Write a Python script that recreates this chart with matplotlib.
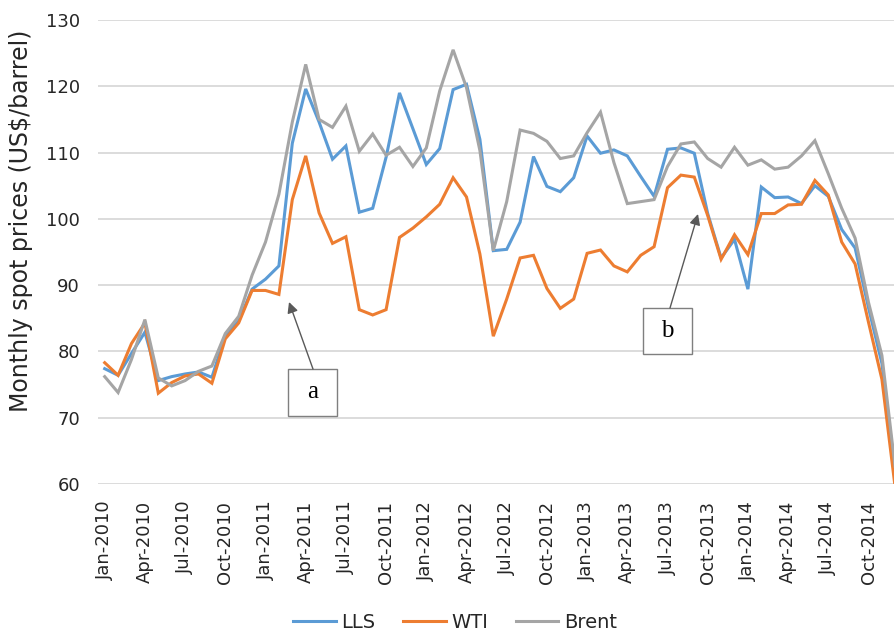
import matplotlib
matplotlib.use("Agg")
import matplotlib.pyplot as plt
from matplotlib.patches import Rectangle, FancyArrowPatch

months = ["Jan", "Feb", "Mar", "Apr", "May", "Jun", "Jul", "Aug", "Sep", "Oct", "Nov", "Dec"]
years = [2010, 2011, 2012, 2013, 2014]
categories = [f"{m}-{y}" for y in years for m in months]

lls = [77.4, 76.4, 79.7, 82.9, 75.6, 76.2, 76.6, 76.9, 76.1, 82.4, 84.6, 89.4,
       90.9, 92.9, 111.4, 119.6, 114.6, 109.0, 111.0, 101.0, 101.6, 109.3, 119.0, 113.6,
       108.2, 110.6, 119.5, 120.3, 112.0, 95.2, 95.4, 99.5, 109.4, 104.9, 104.1, 106.2,
       112.5, 109.9, 110.4, 109.5, 106.4, 103.4, 110.5, 110.7, 109.9, 100.8, 94.1, 96.9,
       89.4, 104.8, 103.2, 103.3, 102.3, 105.0, 103.4, 98.4, 95.6, 86.6, 78.2, 61.5]
wti = [78.3, 76.4, 81.2, 84.3, 73.7, 75.3, 76.3, 76.6, 75.2, 81.9, 84.3, 89.2,
       89.2, 88.6, 102.9, 109.5, 100.9, 96.3, 97.3, 86.3, 85.5, 86.3, 97.2, 98.6,
       100.3, 102.2, 106.2, 103.3, 94.7, 82.3, 87.9, 94.1, 94.5, 89.5, 86.5, 87.9,
       94.8, 95.3, 92.9, 92.0, 94.5, 95.8, 104.7, 106.6, 106.3, 100.5, 93.9, 97.6,
       94.6, 100.8, 100.8, 102.1, 102.2, 105.8, 103.6, 96.5, 93.2, 84.4, 75.8, 59.3]
brent = [76.2, 73.8, 78.8, 84.8, 76.0, 74.8, 75.6, 77.0, 77.8, 82.7, 85.3, 91.5,
         96.5, 103.7, 114.6, 123.3, 115.0, 113.8, 117.0, 110.2, 112.8, 109.6, 110.8, 107.9,
         110.7, 119.3, 125.5, 119.8, 110.3, 95.2, 102.6, 113.4, 112.9, 111.7, 109.1, 109.5,
         113.0, 116.1, 108.5, 102.3, 102.6, 102.9, 107.9, 111.3, 111.6, 109.1, 107.8, 110.8,
         108.1, 108.9, 107.5, 107.8, 109.5, 111.8, 106.8, 101.6, 97.1, 87.4, 79.4, 62.3]

series_names = ["LLS", "WTI", "Brent"]
series_colors = ["#5B9BD5", "#ED7D31", "#A5A5A5"]

W, H = 894, 635
fig = plt.figure(figsize=(W / 100, H / 100), dpi=100)
ax = fig.add_axes([98 / W, 1 - 484 / H, 804 / W, 464 / H])

x = list(range(len(categories)))
handles = []
for vals, name, col in zip([lls, wti, brent], series_names, series_colors):
    h, = ax.plot(x, vals, color=col, lw=2.2, label=name, solid_joinstyle="miter")
    handles.append(h)

ax.set_xlim(-0.5, len(categories) - 0.5)
ax.set_ylim(60, 130)
ax.set_yticks(range(60, 131, 10))
ax.yaxis.grid(True, color="#D9D9D9", lw=1.3)
ax.set_axisbelow(True)
for s in ax.spines.values():
    s.set_visible(False)
ax.set_xticks(x[::3])
ax.set_xticklabels(categories[::3], rotation=90, fontsize=13, color="#262626")
ax.tick_params(axis="x", length=0, pad=12)
ax.tick_params(axis="y", length=0, pad=13, labelsize=13, labelcolor="#262626")

fig.text(21 / W, 1 - 221 / H, "Monthly spot prices (US$/barrel)", rotation=90,
         ha="center", va="center", fontsize=17, color="#262626")

fig.legend(handles=handles, labels=series_names, loc="center", ncol=3,
           bbox_to_anchor=(455 / W, 1 - 622 / H), frameon=False, fontsize=14,
           handlelength=2.2, handletextpad=0.3, columnspacing=1.4,
           labelcolor="#262626")

def fpx(px, py):
    return (px / W, 1 - py / H)

def add_box(x0, y0, x1, y1, label, tail, tip):
    bl = fpx(x0, y1)
    rect = Rectangle(bl, (x1 - x0) / W, (y1 - y0) / H, transform=fig.transFigure,
                     facecolor="white", edgecolor="#7F7F7F", lw=1.0, zorder=5)
    fig.patches.append(rect)
    fig.text((x0 + x1) / 2 / W, 1 - (y0 + y1) / 2 / H, label, ha="center", va="center",
             fontsize=18, family="Liberation Serif", color="black", zorder=6)
    arr = FancyArrowPatch(fpx(*tail), fpx(*tip), transform=fig.transFigure,
                          arrowstyle="-|>", mutation_scale=16, color="#595959",
                          lw=1.0, shrinkA=0, shrinkB=0, zorder=6)
    fig.patches.append(arr)

add_box(288, 369, 337, 416, "a", (313, 369), (289, 302))
add_box(643, 308, 692, 354, "b", (670, 308), (698, 214))

fig.savefig("out.png", dpi=100)
